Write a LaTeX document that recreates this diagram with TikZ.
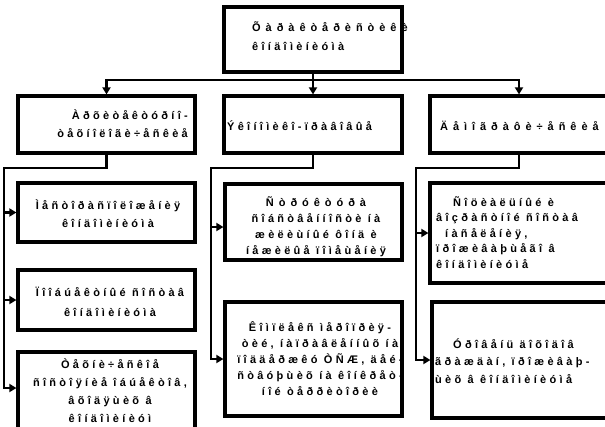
\documentclass[tikz,border=0pt]{standalone}
\usepackage{fontspec}
\newfontfamily\lsf[LetterSpace=30]{Liberation Sans}
\newfontfamily\lsfw[LetterSpace=45]{Liberation Sans}
\usetikzlibrary{arrows.meta}
\begin{document}
\begin{tikzpicture}[x=1pt,y=-1pt,
  box/.style={draw, line width=3.2pt, rectangle, inner sep=0pt},
  con/.style={line width=2.8pt, line cap=rect},
  arr/.style={line width=2.8pt, -{Triangle[length=7pt,width=8pt]}},
  txt/.style={font=\lsf\bfseries\fontsize{11}{#1}\selectfont, inner sep=0pt},
  txt/.default=17]
\useasboundingbox (0,0) rectangle (605,426);
% boxes
\node[box, minimum width=178, minimum height=65] (top) at (313,39.5) {};
\node[box, minimum width=177, minimum height=57] (A) at (106.5,124.5) {};
\node[box, minimum width=178, minimum height=57] (B) at (313,124.5) {};
\node[box, minimum width=178, minimum height=57] (C) at (519,124.5) {};
\node[box, minimum width=177, minimum height=59] (a1) at (106.5,212.5) {};
\node[box, minimum width=177, minimum height=60] (a2) at (106.5,300) {};
\node[box, minimum width=177, minimum height=88] (a3) at (106.5,396) {};
\node[box, minimum width=177, minimum height=76] (b1) at (313.5,222) {};
\node[box, minimum width=177, minimum height=114] (b2) at (313.5,359) {};
\node[box, minimum width=182, minimum height=100] (c1) at (521,233) {};
\node[box, minimum width=180, minimum height=116] (c2) at (522,360) {};
% connectors
\coordinate (bar) at (313,80);
\coordinate (la) at (4,168);
\coordinate (lb) at (211,168);
\coordinate (lc) at (416,168);
\coordinate (a3in) at (16.4,388);
\draw[con] (top.south) -- (bar);
\draw[arr] (bar) -| (A.north);
\draw[arr] (bar) -- (B.north);
\draw[arr] (bar) -| (C.north);
\draw[con] (A.south) |- (la);
\draw[con] (B.south) |- (lb);
\draw[con] (C.south) |- (lc);
\draw[arr] (la) |- (a1.west);
\draw[arr] (la) |- (a2.west);
\draw[arr] (la) |- (a3in);
\draw[arr] (lb) |- ([yshift=-5pt]b1.west);
\draw[arr] (lb) |- (b2.west);
\draw[arr] (lc) |- (c1.west);
\draw[arr] (lc) |- (c2.west);
% texts
\node[txt=19, align=left, anchor=west] (t0) at (252,36.5) {{\lsfw Õàðàêòåðèñòèêè}\\êîíäîìèíèóìà};
\node[txt=18, align=right, anchor=east] (tA) at (188,124) {Àðõèòåêòóðíî-\\òåõíîëîãè÷åñêèå};
\node[txt, anchor=west] (tB) at (227,126) {Ýêîíîìèêî-ïðàâîâûå};
\node[txt, anchor=west] (tC) at (440,126) {\lsfw Äåìîãðàôè÷åñêèå};
\node[txt=18, align=center] (ta1) at (108,214) {Ìåñòîðàñïîëîæåíèÿ\\êîíäîìèíèóìà};
\node[txt=20, align=center] (ta2) at (110,302) {Ïîîáúåêòíûé ñîñòàâ\\êîíäîìèíèóìà};
\node[txt=18, align=center] (ta3) at (110,391) {Òåõíè÷åñêîå\\ñîñòîÿíèå îáúåêòîâ,\\âõîäÿùèõ â\\êîíäîìèíèóì};
\node[txt=16, align=center] (tb1) at (316,227) {{\lsfw Ñòðóêòóðà}\\ñîáñòâåííîñòè íà\\æèëèùíûé ôîíä è\\íåæèëûå ïîìåùåíèÿ};
\node[txt=16, align=center] (tb2) at (320,359) {Êîìïëåêñ ìåðîïðèÿ-\\òèé, íàïðàâëåííûõ íà\\ïîääåðæêó ÒÑÆ, äåé-\\ñòâóþùèõ íà êîíêðåò-\\íîé òåððèòîðèè};
\node[txt=15.5, align=left, anchor=west] (tc1) at (436,232.5) {\hspace*{17pt}Ñîöèàëüíûé è\\âîçðàñòíîé ñîñòàâ\\\hspace*{9pt}íàñåëåíèÿ,\\ïðîæèâàþùåãî â\\êîíäîìèíèóìå};
\node[txt=17.5, align=left, anchor=west] (tc2) at (435,361) {\hspace*{18pt}Óðîâåíü äîõîäîâ\\ãðàæäàí, ïðîæèâàþ-\\ùèõ â êîíäîìèíèóìå};
\end{tikzpicture}
\end{document}
